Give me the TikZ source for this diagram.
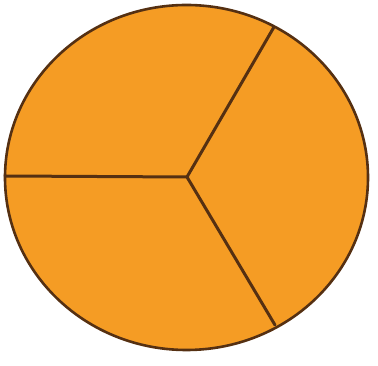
\documentclass[tikz,border=0pt]{standalone}
\definecolor{pieorange}{RGB}{245,156,36}
\definecolor{piebrown}{RGB}{85,48,18}
\begin{document}
\begin{tikzpicture}[x=1pt,y=1pt,
  rim/.style={draw=piebrown,line width=2.6pt,fill=pieorange},
  cut/.style={draw=piebrown,line width=3pt,line cap=round}]
\useasboundingbox (0,0) rectangle (378,366);
\fill[white] (0,0) rectangle (378,366);
\coordinate (c) at (187,189);
\draw[rim] (186.5,188.5) ellipse [x radius=181.5, y radius=172.5];
\coordinate (l) at (5,190);
\coordinate (tr) at (274,339);
\coordinate (br) at (275,41);
\draw[cut] (c) -- (l);
\draw[cut] (c) -- (tr);
\draw[cut] (c) -- (br);
\end{tikzpicture}
\end{document}
